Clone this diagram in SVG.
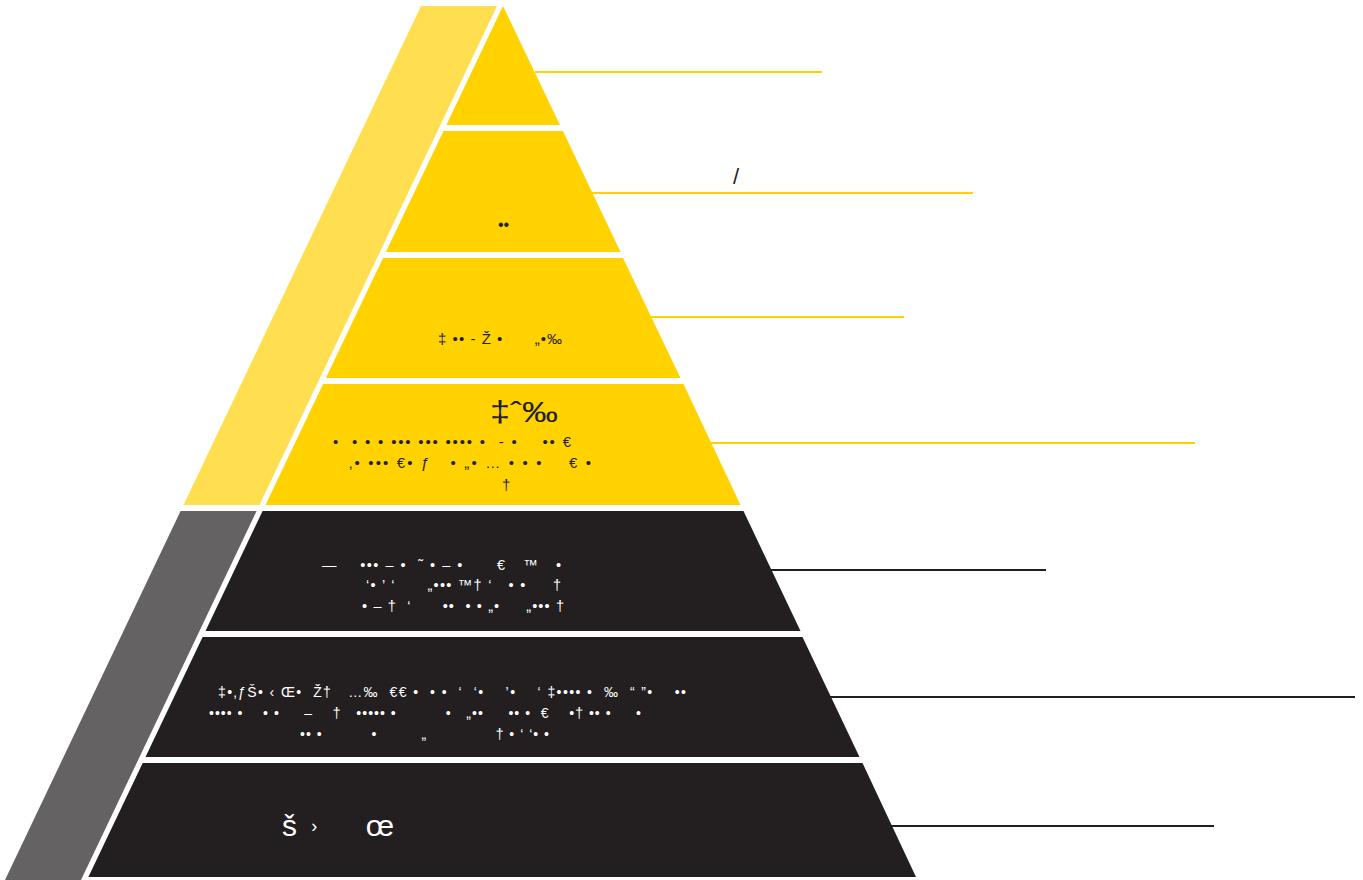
<svg xmlns="http://www.w3.org/2000/svg" width="1363" height="880" viewBox="0 0 1363 880">
<style>
.y{fill:#FFD200}.d{fill:#231F20}
.ly{stroke:#FFD200;stroke-width:2;fill:none}.ld{stroke:#231F20;stroke-width:2;fill:none}
.tk{font-family:"Liberation Sans",Arial,sans-serif;fill:#231F20}
.tw{font-family:"Liberation Sans",Arial,sans-serif;fill:#FFFFFF}
</style>
<rect width="1363" height="880" fill="#FFFFFF"/>
<g id="side-yellow"><polygon points="421,6 497,6 259.5,505 183.5,505" fill="#FFDF50"/></g>
<g id="side-gray"><polygon points="180.6,511 256.6,511 81,880 5,880" fill="#646262"/></g>
<g id="connectors">
<line class="ly" x1="535" y1="72" x2="822" y2="72"/>
<line class="ly" x1="592" y1="193" x2="973" y2="193"/>
<line class="ly" x1="651" y1="317" x2="904" y2="317"/>
<line class="ly" x1="710" y1="443" x2="1195" y2="443"/>
<line class="ld" x1="770" y1="570" x2="1046" y2="570"/>
<line class="ld" x1="829" y1="697" x2="1355" y2="697"/>
<line class="ld" x1="891" y1="826" x2="1214" y2="826"/>
</g>
<g id="level1"><polygon class="y" points="503,6 560,125 446.4,125"/></g>
<g id="level2"><polygon class="y" points="443.5,131 563,131 620.5,252 385.9,252"/>
<text class="tk" x="498" y="230" font-size="16">••</text></g>
<g id="level3"><polygon class="y" points="383,258 623,258 680.5,378 325.9,378"/>
<text class="tk" x="438" y="344" font-size="15" xml:space="preserve" textLength="124" lengthAdjust="spacing">‡ •• - Ž •      „•‰</text></g>
<g id="level4"><polygon class="y" points="323.1,384 683.5,384 740.5,505 265.5,505"/>
<text class="tk" x="490" y="422" font-size="30" textLength="68" lengthAdjust="spacingAndGlyphs">‡ˆ‰</text>
<text class="tk" x="333" y="447" font-size="15" xml:space="preserve" textLength="238" lengthAdjust="spacing">•  • • • ••• ••• •••• •  - •    •• €</text>
<text class="tk" x="349" y="468" font-size="15" xml:space="preserve" textLength="242" lengthAdjust="spacing">‚• ••• €• ƒ   • „• … • • •    € •</text>
<text class="tk" x="502" y="490" font-size="15">†</text></g>
<g id="level5"><polygon class="d" points="262.6,511 743.5,511 800.5,631 205.5,631"/>
<text class="tw" x="322" y="570" font-size="14.5" xml:space="preserve" textLength="239" lengthAdjust="spacing">—    ••• – •  ˜ • – •      €   ™   •</text>
<text class="tw" x="366" y="590" font-size="14.5" xml:space="preserve" textLength="195" lengthAdjust="spacing">‘• ’ ‘      „••• ™† ‘   • •     †</text>
<text class="tw" x="362" y="611" font-size="14.5" xml:space="preserve" textLength="202" lengthAdjust="spacing">• – †  ‘      ••  • • „•     „••• †</text></g>
<g id="level6"><polygon class="d" points="202.6,637 802.5,637 859.5,757 145.5,757"/>
<text class="tw" x="218" y="697" font-size="14" xml:space="preserve" textLength="468" lengthAdjust="spacing">‡•‚ƒŠ• ‹ Œ•  Ž†   …‰  €€ •  • •  ‘  ‘•    ’•    ‘ ‡•••• •  ‰  “ ”•    ••</text>
<text class="tw" x="209" y="718" font-size="14" xml:space="preserve" textLength="432" lengthAdjust="spacing">•••• •    • •     –    †   ••••• •          •   „••     •• •  €    •† •• •     •</text>
<text class="tw" x="300" y="739" font-size="14" xml:space="preserve" textLength="249" lengthAdjust="spacing">•• •          •         „              † • ‘ ‘• •</text></g>
<g id="level7"><polygon class="d" points="142.7,763 862.5,763 916,877 88.4,877"/>
<text class="tw" x="282" y="836" font-size="30" xml:space="preserve" textLength="112" lengthAdjust="spacing">š <tspan font-size="18" dy="-4">›</tspan><tspan dy="4">    œ</tspan></text></g>
<g id="label-slash"><text class="tk" x="733" y="184" font-size="22">/</text></g>
</svg>
